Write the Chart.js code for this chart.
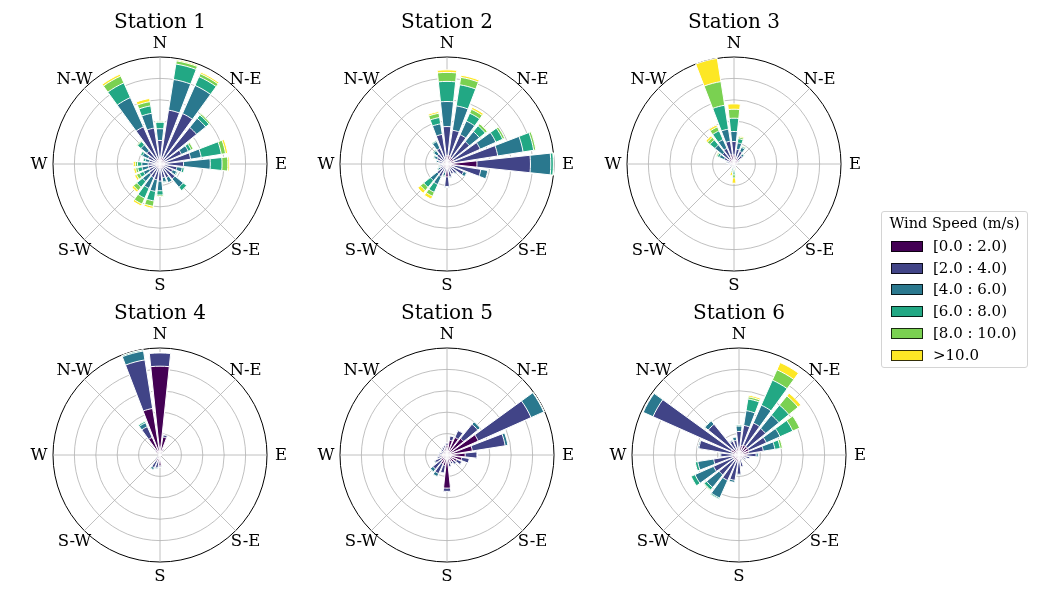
<!DOCTYPE html>
<html>
<head>
<meta charset="utf-8">
<title>Wind roses</title>
<script src="https://cdn.jsdelivr.net/npm/chart.js@4.4.0/dist/chart.umd.min.js"></script>
<style>
  html, body { margin: 0; padding: 0; background: #fff; }
  #figure { position: relative; width: 1060px; height: 596px; overflow: hidden; font-family: "DejaVu Serif", serif; }
  #figure canvas { position: absolute; }
  #legend {
    position: absolute; left: 881px; top: 211px; width: 145px; height: 155px;
    border: 1px solid #d4d4d4; border-radius: 3px; background: #fff;
  }
  #legend .title { position: absolute; left: 0; right: 0; top: 3px; text-align: center; font-size: 14.5px; color: #000; }
  #legend .row { position: absolute; left: 9px; height: 18px; font-size: 15px; color: #000; line-height: 18px; }
  #legend .swatch { position: absolute; left: 0; top: 4px; width: 30px; height: 9px; border: 1px solid rgba(0,0,0,0.8); }
  #legend .text { position: absolute; left: 42px; top: 0; white-space: nowrap; }
</style>
</head>
<body>
<div id="figure">
  <canvas id="rose1" width="300" height="300"></canvas>
  <canvas id="rose2" width="300" height="300"></canvas>
  <canvas id="rose3" width="300" height="300"></canvas>
  <canvas id="rose4" width="300" height="300"></canvas>
  <canvas id="rose5" width="300" height="300"></canvas>
  <canvas id="rose6" width="300" height="300"></canvas>
  <div id="legend"></div>
</div>
<script>
/* ---------------------------------------------------------------
   Wind roses for six stations - 24 sectors, 6 speed bins
   values are in ring units (outer circle = 5)
   --------------------------------------------------------------- */

const directions = ['N', 'N-E', 'E', 'S-E', 'S', 'S-W', 'W', 'N-W'];
const binLabels = ['[0.0 : 2.0)', '[2.0 : 4.0)', '[4.0 : 6.0)', '[6.0 : 8.0)', '[8.0 : 10.0)', '>10.0'];
const binColors = ['#440154', '#414487', '#2a788e', '#22a884', '#7ad151', '#fde725'];
const stationTitles = ['Station 1', 'Station 2', 'Station 3', 'Station 4', 'Station 5', 'Station 6'];
const sectorDegrees = [0, 15, 30, 45, 60, 75, 90, 105, 120, 135, 150, 165, 180, 195, 210, 225, 240, 255, 270, 285, 300, 315, 330, 345];
const ringTicks = [0, 1, 2, 3, 4, 5];

// station 1
const s1_b0 = [0.2, 0.3, 0.3, 0.25, 0.2, 0.25, 0.25, 0.2, 0.2, 0.2, 0.2, 0.2, 0.2, 0.2, 0.2, 0.2, 0.2, 0.2, 0.2, 0.15, 0.2, 0.2, 0.3, 0.25];
const s1_b1 = [0.9, 2.25, 2.28, 1.95, 0.9, 1.2, 0.85, 0.6, 0.45, 0.7, 0.5, 0.45, 0.6, 0.55, 0.5, 0.45, 0.35, 0.35, 0.35, 0.35, 0.4, 0.6, 1.6, 1.45];
const s1_b2 = [0.55, 1.45, 1.44, 0.55, 0.35, 0.5, 1.25, 0.25, 0.2, 0.5, 0.25, 0.2, 0.45, 0.55, 0.55, 0.4, 0.3, 0.3, 0.3, 0.2, 0.3, 0.35, 1.5, 0.7];
const s1_b3 = [0.3, 0.73, 0.45, 0.2, 0.15, 0.95, 0.55, 0.1, 0.05, 0.2, 0, 0.05, 0.2, 0.45, 0.5, 0.35, 0.2, 0.2, 0.2, 0.1, 0.1, 0.2, 0.75, 0.35];
const s1_b4 = [0.05, 0.15, 0.15, 0.08, 0.1, 0.2, 0.27, 0, 0, 0, 0, 0, 0.07, 0.25, 0.3, 0.2, 0.15, 0.1, 0.1, 0, 0, 0.05, 0.35, 0.2];
const s1_b5 = [0, 0.05, 0.08, 0, 0, 0.1, 0.07, 0, 0, 0, 0, 0, 0, 0.1, 0.1, 0.1, 0.1, 0.1, 0.1, 0, 0, 0, 0.1, 0.15];

// station 2
const s2_b0 = [0.4, 0.4, 0.35, 0.35, 0.35, 0.35, 1.4, 0.3, 0.25, 0.2, 0.2, 0.25, 0.6, 0.15, 0.2, 0.2, 0.15, 0.15, 0.15, 0.15, 0.15, 0.15, 0.2, 0.3];
const s2_b1 = [1.35, 1.2, 1.15, 1.0, 1.35, 2.05, 2.5, 1.3, 0.6, 0.35, 0.3, 0.35, 0.45, 0.25, 0.45, 0.4, 0.2, 0.15, 0.15, 0.25, 0.35, 0.45, 0.6, 1.1];
const s2_b2 = [1.17, 1.15, 0.7, 0.6, 0.8, 1.2, 0.95, 0.33, 0.15, 0.05, 0, 0.05, 0.05, 0.15, 0.4, 0.4, 0.1, 0.05, 0.05, 0.1, 0.15, 0.2, 0.35, 0.5];
const s2_b3 = [0.94, 1.0, 0.4, 0.35, 0.35, 0.5, 0.12, 0, 0, 0, 0, 0, 0, 0.05, 0.4, 0.4, 0.05, 0.05, 0, 0, 0.05, 0.05, 0.05, 0.3];
const s2_b4 = [0.42, 0.35, 0.2, 0.12, 0.1, 0.1, 0.02, 0, 0, 0, 0, 0, 0, 0, 0.2, 0.2, 0, 0, 0, 0, 0, 0, 0, 0.2];
const s2_b5 = [0.12, 0.1, 0.1, 0.02, 0, 0.02, 0, 0, 0, 0, 0, 0, 0, 0, 0.15, 0.16, 0, 0, 0, 0, 0, 0, 0, 0.08];

// station 3
const s3_b0 = [0.42, 0.3, 0.3, 0.25, 0.15, 0.1, 0.08, 0.08, 0.06, 0.06, 0.05, 0.05, 0.05, 0.05, 0.05, 0.06, 0.08, 0.1, 0.12, 0.15, 0.2, 0.3, 0.35, 0.44];
const s3_b1 = [0.63, 0.4, 0.35, 0.25, 0.1, 0.05, 0.03, 0.03, 0.02, 0.02, 0.02, 0.05, 0.1, 0.05, 0.03, 0.04, 0.05, 0.06, 0.08, 0.15, 0.3, 0.4, 0.45, 0.64];
const s3_b2 = [0.47, 0.3, 0.2, 0.1, 0.05, 0, 0, 0, 0, 0, 0.02, 0.05, 0.15, 0.1, 0.02, 0.02, 0.02, 0.02, 0.03, 0.05, 0.25, 0.45, 0.45, 0.57];
const s3_b3 = [0.62, 0.2, 0.05, 0.03, 0, 0, 0, 0, 0, 0, 0, 0.05, 0.2, 0.1, 0, 0, 0, 0, 0, 0.02, 0.1, 0.3, 0.45, 1.13];
const s3_b4 = [0.42, 0.08, 0.03, 0, 0, 0, 0, 0, 0, 0, 0, 0.05, 0.15, 0.1, 0, 0, 0, 0, 0, 0, 0.05, 0.15, 0.2, 1.12];
const s3_b5 = [0.25, 0.05, 0, 0, 0, 0, 0, 0, 0, 0, 0, 0.05, 0.25, 0.15, 0, 0, 0, 0, 0, 0, 0.02, 0.1, 0.1, 1.1];

// station 4
const s4_b0 = [4.15, 0.85, 0.25, 0.1, 0.05, 0.05, 0.05, 0.05, 0.05, 0.05, 0.05, 0.05, 0.5, 0.3, 0.3, 0.15, 0.05, 0.05, 0.05, 0.05, 0.05, 0.25, 0.9, 2.2];
const s4_b1 = [0.62, 0.1, 0.05, 0, 0, 0, 0, 0, 0, 0, 0, 0, 0.05, 0.3, 0.35, 0.1, 0, 0, 0, 0, 0, 0.05, 0.55, 2.3];
const s4_b2 = [0, 0, 0, 0, 0, 0, 0, 0, 0, 0, 0, 0, 0, 0.05, 0.1, 0, 0, 0, 0, 0, 0, 0, 0.2, 0.42];
const s4_b3 = [0, 0, 0, 0, 0, 0, 0, 0, 0, 0, 0, 0, 0, 0, 0, 0, 0, 0, 0, 0, 0, 0, 0.07, 0.05];
const s4_b4 = [0, 0, 0, 0, 0, 0, 0, 0, 0, 0, 0, 0, 0, 0, 0, 0, 0, 0, 0, 0, 0, 0, 0, 0];
const s4_b5 = [0, 0, 0, 0, 0, 0, 0, 0, 0, 0, 0, 0, 0, 0, 0, 0, 0, 0, 0, 0, 0, 0, 0, 0];

// station 5
const s5_b0 = [0.45, 0.7, 0.9, 1.0, 1.6, 1.2, 0.85, 0.7, 0.5, 0.4, 0.35, 0.4, 1.55, 0.5, 0.45, 0.35, 0.3, 0.25, 0.25, 0.2, 0.2, 0.2, 0.25, 0.3];
const s5_b1 = [0.1, 0.2, 0.35, 0.85, 2.7, 1.55, 0.55, 0.35, 0.25, 0.15, 0.1, 0.15, 0.15, 0.35, 0.5, 0.5, 0.3, 0.2, 0.15, 0.15, 0.1, 0.15, 0.15, 0.15];
const s5_b2 = [0, 0, 0, 0.15, 0.65, 0.13, 0, 0, 0, 0, 0, 0, 0, 0, 0.15, 0.15, 0.05, 0, 0, 0, 0, 0, 0, 0];
const s5_b3 = [0, 0, 0, 0, 0.02, 0, 0, 0, 0, 0, 0, 0, 0, 0, 0.02, 0.02, 0, 0, 0, 0, 0, 0, 0, 0];
const s5_b4 = [0, 0, 0, 0, 0, 0, 0, 0, 0, 0, 0, 0, 0, 0, 0, 0, 0, 0, 0, 0, 0, 0, 0, 0];
const s5_b5 = [0, 0, 0, 0, 0, 0, 0, 0, 0, 0, 0, 0, 0, 0, 0, 0, 0, 0, 0, 0, 0, 0, 0, 0];

// station 6
const s6_b0 = [0.3, 0.45, 0.5, 0.5, 0.5, 0.45, 0.35, 0.25, 0.2, 0.15, 0.15, 0.2, 0.3, 0.3, 0.3, 0.3, 0.3, 0.3, 0.25, 0.3, 0.4, 0.35, 0.25, 0.3];
const s6_b1 = [0.8, 0.95, 1.14, 1.1, 0.9, 0.7, 0.45, 0.25, 0.15, 0.1, 0.1, 0.35, 0.6, 0.9, 1.0, 0.9, 1.0, 0.9, 0.6, 1.6, 4.0, 1.5, 0.45, 0.4];
const s6_b2 = [0.25, 0.7, 0.91, 0.8, 0.7, 0.55, 0.1, 0, 0, 0, 0, 0, 0.05, 0.1, 0.9, 0.75, 0.95, 0.75, 0.05, 0.05, 0.5, 0.2, 0.05, 0.15];
const s6_b3 = [0.05, 0.55, 1.28, 0.6, 0.65, 0.25, 0, 0, 0, 0, 0, 0, 0, 0, 0.06, 0.15, 0.2, 0.12, 0, 0, 0, 0.03, 0, 0];
const s6_b4 = [0, 0.1, 0.53, 0.55, 0.35, 0.1, 0, 0, 0, 0, 0, 0, 0, 0, 0, 0.03, 0, 0, 0, 0, 0, 0, 0, 0];
const s6_b5 = [0, 0.08, 0.37, 0.17, 0, 0.01, 0, 0, 0, 0, 0, 0, 0, 0, 0, 0, 0, 0, 0, 0, 0, 0, 0, 0];

const stationBins = [
    [s1_b0, s1_b1, s1_b2, s1_b3, s1_b4, s1_b5],
    [s2_b0, s2_b1, s2_b2, s2_b3, s2_b4, s2_b5],
    [s3_b0, s3_b1, s3_b2, s3_b3, s3_b4, s3_b5],
    [s4_b0, s4_b1, s4_b2, s4_b3, s4_b4, s4_b5],
    [s5_b0, s5_b1, s5_b2, s5_b3, s5_b4, s5_b5],
    [s6_b0, s6_b1, s6_b2, s6_b3, s6_b4, s6_b5]
];

// centre of each rose on the page
const roseCentres = [[160, 164], [447, 164], [734, 164], [160, 455], [447, 455], [739, 455]];

const BAR_ANGLE = 12;   // degrees covered by a bar
const GAP_ANGLE = 3;    // empty wedge between bars
const GRID_COLOR = '#b0b0b0';
const FONT = '"DejaVu Serif", "Liberation Serif", serif';

// every sector becomes two slots: the bar and the gap after it
const slotLabels = [];
sectorDegrees.forEach(d => { slotLabels.push(d + '°'); slotLabels.push(''); });

function withGaps(values) {
    const out = [];
    values.forEach(v => { out.push(v); out.push(0); });
    return out;
}

/**
 * stacked bars are faked by drawing running totals, biggest first,
 * the smaller totals are drawn over them (dataset 0 is drawn last)
 */
function buildDatasets(bins) {
    let running = sectorDegrees.map(() => 0);
    const totals = bins.map(bin => {
        running = running.map((v, i) => v + bin[i]);
        return running;
    });
    return totals.map((tot, k) => ({
        label: binLabels[k],
        data: withGaps(tot),
        backgroundColor: binColors[k],
        borderColor: '#ffffff',
        borderWidth: ctx => (ctx.dataIndex % 2 ? 0 : 1),
        angle: ctx => (ctx.dataIndex % 2 ? GAP_ANGLE : BAR_ANGLE)
    }));
}

// compass lines and direction labels
const roseAxes = {
    id: 'roseAxes',
    beforeDatasetsDraw(chart) {
        const r = chart.scales.r;
        const ctx = chart.ctx;
        const cx = r.xCenter, cy = r.yCenter, R = r.drawingArea;
        ctx.save();
        ctx.strokeStyle = GRID_COLOR;
        ctx.lineWidth = 0.8;
        directions.forEach((d, i) => {
            const a = i * Math.PI / 4;
            ctx.beginPath();
            ctx.moveTo(cx, cy);
            ctx.lineTo(cx + R * Math.sin(a), cy - R * Math.cos(a));
            ctx.stroke();
        });
        ctx.fillStyle = '#000';
        ctx.font = '16.5px ' + FONT;
        ctx.textAlign = 'center';
        ctx.textBaseline = 'middle';
        directions.forEach((d, i) => {
            const a = i * Math.PI / 4;
            const lr = R + 14;
            ctx.fillText(d, cx + lr * Math.sin(a), cy - lr * Math.cos(a) + 1);
        });
        ctx.restore();
    }
};

stationBins.forEach((bins, s) => {
    const canvas = document.getElementById('rose' + (s + 1));
    canvas.style.left = (roseCentres[s][0] - 150) + 'px';
    canvas.style.top = (roseCentres[s][1] - 155) + 'px';

    new Chart(canvas.getContext('2d'), {
        type: 'polarArea',
        data: {
            labels: slotLabels,
            datasets: buildDatasets(bins)
        },
        options: {
            responsive: false,
            animation: false,
            devicePixelRatio: 1,
            layout: { padding: { top: 2, bottom: 38, left: 43, right: 43 } },
            plugins: {
                legend: { display: false },
                tooltip: { enabled: false },
                title: {
                    display: true,
                    text: stationTitles[s],
                    color: '#000',
                    font: { family: FONT, size: 20, weight: 'normal' },
                    padding: { top: 0, bottom: 22 }
                }
            },
            scales: {
                r: {
                    min: ringTicks[0],
                    max: ringTicks[ringTicks.length - 1],
                    startAngle: -BAR_ANGLE / 2,
                    ticks: { display: false, stepSize: 1 },
                    angleLines: { display: false },
                    pointLabels: { display: false },
                    grid: {
                        circular: true,
                        color: c => (c.tick && c.tick.value === ringTicks[ringTicks.length - 1] ? '#000' : GRID_COLOR),
                        lineWidth: c => (c.tick && c.tick.value === ringTicks[ringTicks.length - 1] ? 1 : 0.8)
                    }
                }
            }
        },
        plugins: [roseAxes]
    });
});

// legend box
const legend = document.getElementById('legend');
const lt = document.createElement('div');
lt.className = 'title';
lt.textContent = 'Wind Speed (m/s)';
legend.appendChild(lt);
binLabels.forEach((lab, k) => {
    const row = document.createElement('div');
    row.className = 'row';
    row.style.top = (25 + k * 21.7) + 'px';
    const sw = document.createElement('span');
    sw.className = 'swatch';
    sw.style.background = binColors[k];
    const tx = document.createElement('span');
    tx.className = 'text';
    tx.textContent = lab;
    row.appendChild(sw);
    row.appendChild(tx);
    legend.appendChild(row);
});
</script>
</body>
</html>
